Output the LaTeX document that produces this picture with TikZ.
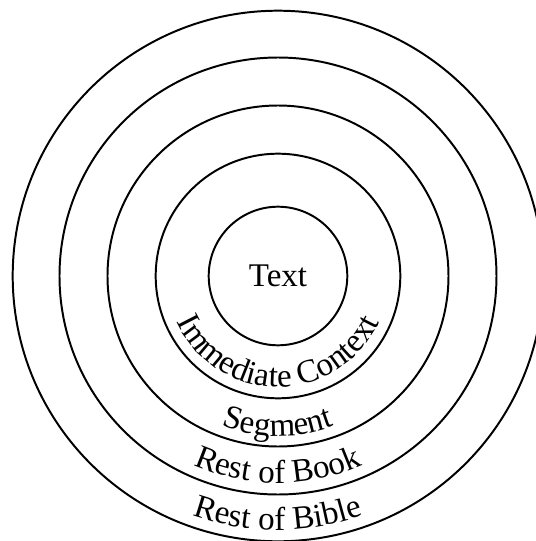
\documentclass[tikz,border=0pt]{standalone}
\usepackage{fontspec}
\setmainfont{Liberation Serif}
\usetikzlibrary{decorations.text}

\begin{document}
\begin{tikzpicture}[x=0.025cm, y=0.025cm,
      ring/.style={draw, line width=1.4pt},
      arclabel/.style={decorate, decoration={text along path,
          text align=center, text={|\fontsize{23.5}{28}\selectfont|#1}}}]
    \useasboundingbox (-278,-265) rectangle (258,276);
    \clip (-278,-265) rectangle (258,276);
    % the five rings
    \draw[ring] (0,0) circle[radius=69.3];
    \draw[ring] (0,0) circle[radius=122.3];
    \draw[ring] (0,0) circle[radius=170.5];
    \draw[ring] (0,0) circle[radius=218.5];
    \draw[ring] (0,0) circle[radius=265.3];
    \node[font=\fontsize{23.5}{28}\selectfont] (core) at (0,0) {Text};
    % labels along the lower arcs
    \path[arclabel={Immediate Context}] (180:111) arc[start angle=180, end angle=360, radius=111];
    \path[arclabel={Segment}] (200:160) arc[start angle=200, end angle=340, radius=160];
    \path[arclabel={Rest of Book}] (210:207) arc[start angle=210, end angle=330, radius=207];
    \path[arclabel={Rest of Bible}] (220:254) arc[start angle=220, end angle=320, radius=254];
\end{tikzpicture}
\end{document}
